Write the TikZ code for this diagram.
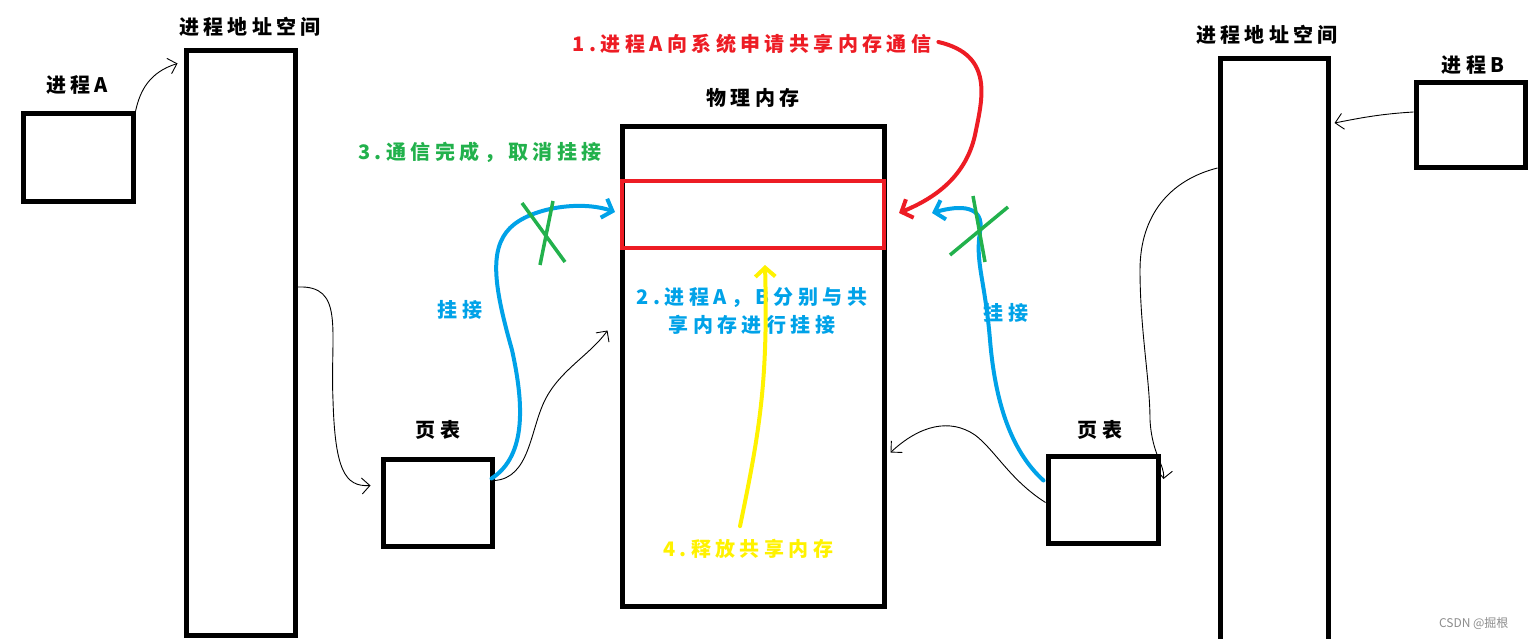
\documentclass[tikz,border=0pt]{standalone}
\usepackage{fontspec}
\usepackage{xcolor}
\usetikzlibrary{arrows.meta,calc}
\newfontfamily\cjk[LetterSpace=22]{Noto Sans CJK SC}
\newfontfamily\cjkplain{Noto Sans CJK SC}
\definecolor{PaintRed}{HTML}{ED1C24}
\definecolor{PaintGreen}{HTML}{22B14C}
\definecolor{PaintBlue}{HTML}{00A2E8}
\definecolor{PaintYellow}{HTML}{FFF200}

\begin{document}
\begin{tikzpicture}[x=1pt,y=-1pt,
    box/.style={draw=black, line width=5pt, inner sep=0pt},
    lbl/.style={font=\cjk\bfseries\fontsize{20}{28}\selectfont, inner sep=1pt, align=center},
    link/.style={draw=black, line width=0.9pt, -{Straight Barb[length=8pt,width=16pt]}},
    stroke/.style={line width=4pt, line cap=round, -{Straight Barb[length=9pt,width=20pt]}},
    crossline/.style={draw=PaintGreen, line width=3.5pt}
  ]
  \useasboundingbox (0,0) rectangle (1538,639);

  % boxes
  \node[box, minimum width=110pt, minimum height=87pt] (procA) at (78,157.5) {};
  \node[box, minimum width=109pt, minimum height=584pt] (addrA) at (240.5,343) {};
  \node[box, minimum width=109pt, minimum height=87pt] (ptA) at (437.5,502.5) {};
  \node[box, minimum width=262pt, minimum height=479pt] (phys) at (753,366.5) {};
  \node[draw=PaintRed, line width=4pt, inner sep=0pt,
        minimum width=262pt, minimum height=67pt] (shm) at (753,214.5) {};
  \node[box, minimum width=108pt, minimum height=600pt] (addrB) at (1274,359) {};
  \node[box, minimum width=109pt, minimum height=85pt] (procB) at (1470.5,125.5) {};
  \node[box, minimum width=110pt, minimum height=87pt] (ptB) at (1103,499.5) {};

  % labels
  \node[lbl] (procAlbl) at (77,85) {进程A};
  \node[lbl] (addrAlbl) at (250,27) {进程地址空间};
  \node[lbl] (ptAlbl) at (438,430) {页表};
  \node[lbl] (physlbl) at (753,98) {物理内存};
  \node[lbl] (addrBlbl) at (1267,35) {进程地址空间};
  \node[lbl] (procBlbl) at (1473,65) {进程B};
  \node[lbl] (ptBlbl) at (1100,430) {页表};
  \node[lbl, text=PaintRed] (step1) at (752,44) {1.进程A向系统申请共享内存通信};
  \node[lbl, text=PaintBlue] (step2) at (752,311) {2.进程A，B分别与共\\享内存进行挂接};
  \node[lbl, text=PaintGreen] (step3) at (480,152) {3.通信完成，取消挂接};
  \node[lbl, text=PaintYellow] (step4) at (748,549) {4.释放共享内存};
  \node[lbl, text=PaintBlue] (attachA) at (460,310) {挂接};
  \node[lbl, text=PaintBlue] (attachB) at (1006,313) {挂接};
  \node[font=\cjkplain\fontsize{12}{14}\selectfont, text=black!45, anchor=east]
    (mark) at (1512,623) {CSDN @掘根};

  % mapping arrows
  \draw[link] (procA.north east) .. controls (140,90) and (150,72) .. ($(addrA.north west)+(-6,15)$);
  \draw[link] (addrA.east |- 0,287) .. controls (345,285) and (330,330) .. (333,400)
    .. controls (335,470) and (345,487) .. ($(ptA.west)+(-10,-17)$);
  \draw[link] ($(ptA.east)+(0,-22)$) .. controls (530,478) and (530,430) .. (545,400)
    .. controls (560,370) and (590,355) .. ($(phys.west)+(-12,-36)$);
  \draw[link] (procB.west |- 0,112) .. controls (1380,114) and (1360,118) .. ($(addrB.east |- 0,123)+(4,0)$);
  \draw[link] (addrB.west |- 0,168) .. controls (1170,180) and (1140,215) .. (1140,270)
    .. controls (1140,330) and (1150,380) .. (1150,420)
    .. controls (1152,455) and (1165,465) .. ($(ptB.east |- 0,479)+(3,0)$);
  \draw[link] ($(ptB.west)+(0,3)$) .. controls (1010,480) and (995,450) .. (975,435)
    .. controls (950,418) and (920,425) .. ($(phys.east)+(4,86)$);

  % steps
  \draw[stroke, draw=PaintRed] ($(step1.east)+(6,-2)$) .. controls (995,55) and (982,100) .. (975,135)
    .. controls (965,180) and (930,200) .. ($(shm.east |- 0,213)+(13,0)$);
  \draw[stroke, draw=PaintBlue] ($(ptA.east)+(-3,-24)$) .. controls (528,455) and (523,400) .. (512,350)
    .. controls (495,290) and (488,250) .. (510,228)
    .. controls (530,208) and (580,200) .. ($(shm.west |- 0,212)+(-5,0)$);
  \draw[stroke, draw=PaintBlue] ($(ptB.west)+(-2,-19)$) .. controls (1010,450) and (995,400) .. (990,340)
    .. controls (985,280) and (975,262) .. (980,232)
    .. controls (985,205) and (960,205) .. ($(shm.east |- 0,213)+(46,0)$);
  \draw[stroke, draw=PaintYellow] ($(step4.north)+(-8,-12)$) .. controls (760,430) and (768,380) .. ($(shm.south)+(12,15)$);

  % detach marks
  \draw[crossline] (522,203) -- (565,262);
  \draw[crossline] (553,201) -- (540,265);
  \draw[crossline] (1008,207) -- (950,255);
  \draw[crossline] (973,196) -- (985,262);
\end{tikzpicture}
\end{document}
